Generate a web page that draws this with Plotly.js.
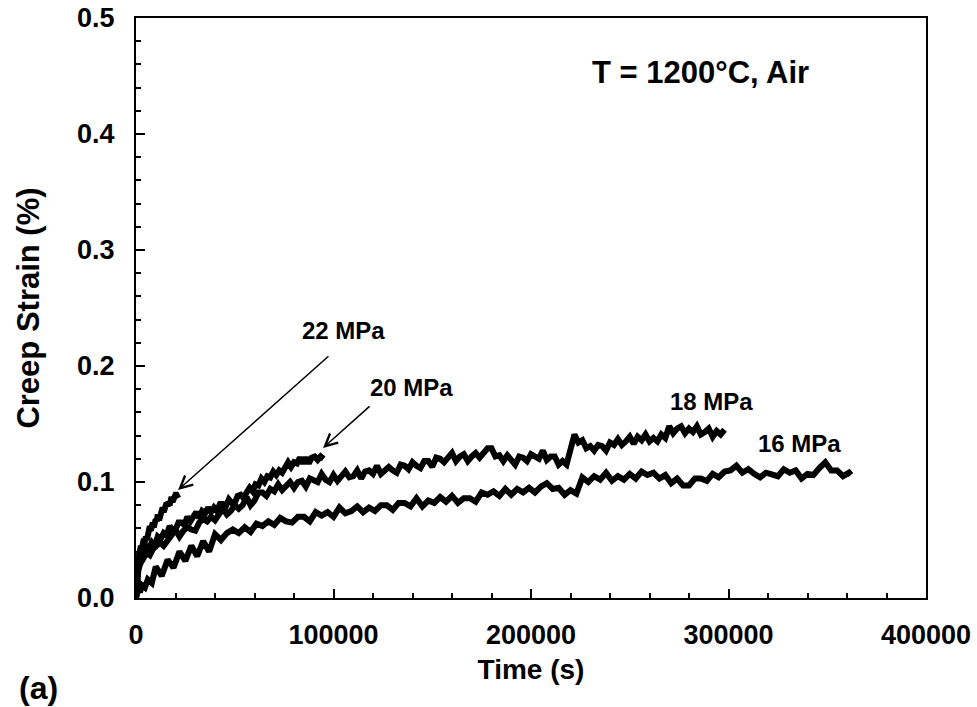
<!DOCTYPE html>
<html>
<head>
<meta charset="utf-8">
<script src="https://cdn.plot.ly/plotly-3.0.1.min.js"></script>
<style>html,body{margin:0;padding:0;background:#fff;}#chart{width:977px;height:707px;}</style>
</head>
<body>
<div id="chart"></div>
<script>
// ---- data ----
const time22 = [0,100,300,600,1000,1500,2000,2500,3000,3500,4000,4500,5000,5500,6000,6500,7000,7500,8000,8500,9000,9500,10000,10500,11000,11500,12000,12500,13000,13500,14000,14500,15000,15500,16000,16500,17000,17500,18000,18500,19000,19500,20000,20500,21000,21400];
const strain22 = [0,0.012,0.022,0.028,0.034,0.037,0.042,
  0.045,0.043,0.048,0.051,0.048,0.053,0.05,0.057,0.056,0.062,0.058,0.062,0.065,0.061,0.066,0.068,0.066,0.072,0.069,0.069,
  0.074,0.072,0.078,0.074,0.078,0.076,0.082,0.079,0.083,0.08,0.084,0.087,0.083,0.087,0.086,0.089,0.089,0.086,
  0.086];

const time20 = [0,200,500,1000,2000,3000,4000,5000,6500,8000,9500,11000,12500,14000,15500,17000,18500,20000,21500,23000,24500,26000,27500,29000,30500,32000,33500,35000,36500,38000,39500,41000,42500,44000,45500,47000,48500,50000,51500,53000,54500,56000,57500,59000,60500,62000,63500,65000,66500,68000,69500,71000,72500,74000,75500,77000,78500,80000,81500,83000,84500,86000,87500,89000,90500,92000,93500,95000];
const strain20 = [0,0.01,0.018,0.024,0.03,0.036,0.038,
  0.045,0.043,0.048,0.045,0.053,0.051,0.056,0.054,0.062,0.059,0.059,0.065,0.065,0.063,0.07,0.066,0.071,0.074,0.069,0.075,
  0.073,0.078,0.074,0.078,0.075,0.081,0.081,0.079,0.085,0.082,0.082,0.088,0.089,0.086,0.091,0.095,0.092,0.098,0.097,0.103,
  0.1,0.105,0.104,0.109,0.106,0.11,0.108,0.114,0.117,0.113,0.117,0.116,0.121,0.116,0.121,0.116,0.121,0.122,0.119,0.122,
  0.12];

const time18 = [0,300,700,1200,2000,3000,4000,5500,7000,8500,10000,
  12000,14000,16000,18000,20000,22000,24000,26000,28000,30000,32000,34000,36000,38000,40000,42000,44000,46000,48000,50000,52000,54000,56000,58000,
  60000,62000,64000,66000,68000,70000,72000,74000,76000,78000,80000,82000,84000,86000,88000,90000,92000,94000,96000,98000,
  100000,102000,104000,106000,108000,110000,112000,114000,116000,118000,120000,122000,124000,126000,128000,130000,132000,134000,136000,138000,
  140000,142000,144000,146000,148000,150000,152000,154000,156000,158000,160000,162000,164000,166000,168000,170000,172000,174000,176000,178000,
  180000,182000,184000,186000,188000,190000,192000,194000,196000,198000,200000,202000,204000,206000,208000,210000,212000,214000,216000,218000,
  220000,222000,224000,226000,228000,230000,232000,234000,236000,238000,240000,242000,244000,246000,248000,250000,252000,254000,256000,258000,
  260000,262000,264000,266000,268000,270000,272000,274000,276000,278000,280000,282000,284000,286000,288000,290000,292000,294000,296000,298000];
const strain18 = [0,0.01,0.018,0.024,0.029,0.033,0.035,0.039,0.037,0.042,0.044,
  0.048,0.045,0.049,0.054,0.059,0.053,0.058,0.061,0.059,0.058,0.065,0.068,0.066,0.07,0.067,0.072,0.077,0.072,0.075,0.08,0.077,0.08,0.087,0.08,
  0.084,0.091,0.091,0.088,0.094,0.092,0.098,0.093,0.096,0.1,0.095,0.1,0.101,0.096,0.103,0.101,0.1,0.107,0.102,0.1,
  0.106,0.101,0.106,0.109,0.104,0.105,0.11,0.103,0.109,0.11,0.107,0.114,0.107,0.11,0.113,0.11,0.108,0.115,0.114,0.111,
  0.117,0.114,0.112,0.118,0.118,0.113,0.121,0.12,0.117,0.121,0.125,0.118,0.122,0.124,0.118,0.122,0.125,0.121,0.126,0.129,
  0.129,0.122,0.123,0.118,0.123,0.118,0.115,0.122,0.121,0.118,0.124,0.122,0.12,0.127,0.119,0.122,0.122,0.115,0.118,0.115,
  0.129,0.141,0.134,0.136,0.129,0.131,0.127,0.132,0.131,0.127,0.134,0.132,0.137,0.132,0.135,0.139,0.133,0.139,0.136,0.141,
  0.135,0.138,0.135,0.141,0.138,0.148,0.142,0.146,0.148,0.142,0.146,0.143,0.148,0.141,0.143,0.146,0.139,0.144,0.141,0.145];

const time16 = [0,500,1000,2000,3000,4500,6000,8000,
  10000,13000,16000,19000,22000,25000,28000,31000,34000,37000,40000,43000,46000,49000,52000,55000,58000,61000,64000,67000,
  70000,73000,76000,79000,82000,85000,88000,91000,94000,97000,100000,103000,106000,109000,112000,115000,118000,121000,124000,127000,
  130000,133000,136000,139000,142000,145000,148000,151000,154000,157000,160000,163000,166000,169000,172000,175000,178000,181000,184000,187000,
  190000,193000,196000,199000,202000,205000,208000,211000,214000,217000,220000,223000,226000,229000,232000,235000,238000,241000,244000,247000,
  250000,253000,256000,259000,262000,265000,268000,271000,274000,277000,280000,283000,286000,289000,292000,295000,298000,301000,304000,307000,
  310000,313000,316000,319000,322000,325000,328000,331000,334000,337000,340000,343000,346000,349000,352000,355000,358000,361000,362000];
const strain16 = [0,0.004,0.007,0.005,0.011,0.009,0.016,0.013,
  0.027,0.019,0.033,0.026,0.04,0.032,0.045,0.036,0.049,0.04,0.055,0.05,0.056,0.059,0.056,0.061,0.057,0.064,0.062,0.066,
  0.063,0.069,0.066,0.065,0.07,0.07,0.066,0.074,0.071,0.074,0.07,0.078,0.073,0.075,0.079,0.074,0.078,0.075,0.08,0.08,
  0.076,0.082,0.082,0.079,0.086,0.079,0.084,0.082,0.087,0.083,0.088,0.082,0.086,0.086,0.083,0.091,0.089,0.092,0.088,0.094,
  0.089,0.094,0.091,0.095,0.091,0.096,0.099,0.094,0.095,0.089,0.093,0.09,0.104,0.1,0.105,0.102,0.108,0.101,0.105,0.102,
  0.107,0.103,0.109,0.106,0.108,0.103,0.106,0.099,0.103,0.097,0.097,0.103,0.103,0.101,0.107,0.104,0.109,0.11,0.114,0.108,
  0.111,0.107,0.104,0.108,0.107,0.105,0.111,0.108,0.11,0.103,0.107,0.106,0.112,0.117,0.11,0.11,0.105,0.108,0.106];

const seriesNames = ['22 MPa','20 MPa','18 MPa','16 MPa'];
const xTickVals = [0,100000,200000,300000,400000];
const yTickVals = [0,0.1,0.2,0.3,0.4,0.5];

// ---- chart ----
const FONT = 'Arial, "Liberation Sans", sans-serif';
const lineStyle = {color:'#000', width:6};
const allT = [time22,time20,time18,time16];
const allS = [strain22,strain20,strain18,strain16];
const traces = allT.map((t,i)=>({x:t, y:allS[i], type:'scatter', mode:'lines', name:seriesNames[i], line:lineStyle, hoverinfo:'skip'}));

const bold = (size)=>({family:FONT, size:size, color:'#000', weight:700});

const layout = {
  width:977, height:707,
  margin:{l:136, r:51, t:18, b:109},
  paper_bgcolor:'#fff', plot_bgcolor:'#fff',
  showlegend:false,
  xaxis:{
    range:[0,400000], tickvals:xTickVals, ticktext:xTickVals.map(v=>String(v)),
    ticks:'inside', ticklen:9, tickwidth:2, tickcolor:'#000',
    minor:{dtick:20000, ticks:'inside', ticklen:5, tickwidth:2, tickcolor:'#000'},
    showline:true, linewidth:2, linecolor:'#000', mirror:true,
    showgrid:false, zeroline:false, tickfont:bold(27), ticklabelstandoff:12,
    title:{text:'Time (s)', font:bold(28), standoff:10}, automargin:false
  },
  yaxis:{
    range:[0,0.5], tickvals:yTickVals, ticktext:yTickVals.map(v=>v.toFixed(1)),
    ticks:'inside', ticklen:9, tickwidth:2, tickcolor:'#000',
    minor:{dtick:0.02, ticks:'inside', ticklen:5, tickwidth:2, tickcolor:'#000'},
    showline:true, linewidth:2, linecolor:'#000', mirror:true,
    showgrid:false, zeroline:false, tickfont:bold(27), ticklabelstandoff:14,
    title:{text:'Creep Strain (%)', font:bold(31), standoff:28}, automargin:false
  },
  annotations:[
    {x:104810, y:0.2302, xref:'x', yref:'y', xanchor:'center', yanchor:'middle', text:seriesNames[0], showarrow:false, font:bold(24)},
    {x:139240, y:0.1819, xref:'x', yref:'y', xanchor:'center', yanchor:'middle', text:seriesNames[1], showarrow:false, font:bold(24)},
    {x:291139, y:0.1698, xref:'x', yref:'y', xanchor:'center', yanchor:'middle', text:seriesNames[2], showarrow:false, font:bold(24)},
    {x:335696, y:0.1328, xref:'x', yref:'y', xanchor:'center', yanchor:'middle', text:seriesNames[3], showarrow:false, font:bold(24)},
    {x:21300, y:0.0931, xref:'x', yref:'y', ax:98200, ay:0.2095, axref:'x', ayref:'y', text:'', showarrow:true, arrowhead:5, arrowsize:1.6, arrowwidth:1.5, arrowcolor:'#000', standoff:0},
    {x:94700, y:0.1293, xref:'x', yref:'y', ax:119000, ay:0.1664, axref:'x', ayref:'y', text:'', showarrow:true, arrowhead:5, arrowsize:1.6, arrowwidth:1.5, arrowcolor:'#000', standoff:0},
    {x:285570, y:0.4526, xref:'x', yref:'y', xanchor:'center', yanchor:'middle', text:'T = 1200°C, Air', showarrow:false, font:bold(31)},
    {x:-0.1228, y:-0.155, xref:'paper', yref:'paper', xanchor:'center', yanchor:'middle', text:'(a)', showarrow:false, font:bold(32)}
  ]
};

Plotly.newPlot('chart', traces, layout, {staticPlot:true, displayModeBar:false});
</script>
</body>
</html>
